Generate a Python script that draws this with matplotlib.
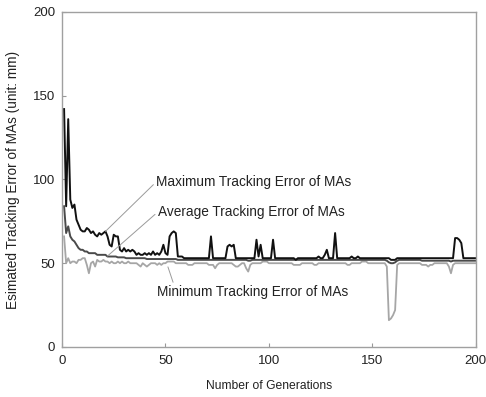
import numpy as np
import matplotlib
matplotlib.use("Agg")
import matplotlib.pyplot as plt

plt.rcParams['font.family'] = ['Liberation Sans', 'DejaVu Sans']

generations = list(range(1, 201))

max_err = [
    142, 84, 136, 88, 83, 85, 76, 73, 70, 69,
    69, 71, 70, 68, 69, 67, 66, 68, 67, 68,
    69, 66, 61, 60, 67, 66, 66, 58, 57, 59,
    57, 58, 57, 58, 57, 55, 56, 55, 55, 56,
    55, 56, 55, 57, 55, 56, 55, 57, 61, 56,
    55, 66, 68, 69, 68, 54, 54, 54, 53, 53,
    53, 53, 53, 53, 53, 53, 53, 53, 53, 53,
    53, 66, 53, 53, 53, 53, 53, 53, 53, 60,
    61, 60, 61, 53, 53, 53, 53, 53, 53, 53,
    53, 53, 53, 64, 54, 61, 53, 53, 53, 53,
    53, 64, 53, 53, 53, 53, 53, 53, 53, 53,
    53, 53, 52, 53, 53, 53, 53, 53, 53, 53,
    53, 53, 53, 54, 53, 53, 55, 58, 53, 53,
    53, 68, 53, 53, 53, 53, 53, 53, 53, 54,
    53, 53, 54, 53, 53, 53, 53, 53, 53, 53,
    53, 53, 53, 53, 53, 53, 53, 53, 52, 52,
    52, 53, 53, 53, 53, 53, 53, 53, 53, 53,
    53, 53, 53, 53, 53, 53, 53, 53, 53, 53,
    53, 53, 53, 53, 53, 53, 53, 53, 53, 65,
    65, 64, 62, 53, 53, 53, 53, 53, 53, 53,
]

avg_err = [
    84, 68, 72, 66, 64, 63, 61, 59, 58, 58,
    57, 57, 56, 56, 56, 56, 55, 55, 55, 55,
    55, 54, 54, 54, 54, 54, 53.5, 53.5, 53.5, 53.5,
    53, 53, 53, 53, 53, 53, 53, 53, 53, 53,
    52.5, 52.5, 52.5, 52.5, 52.5, 52.5, 52.5, 52.5, 52.5, 52.5,
    52.5, 52.5, 52.5, 52.5, 52.5, 52, 52, 52, 52, 52,
    52, 52, 52, 52, 52, 52, 52, 52, 52, 52,
    52, 52, 52, 52, 52, 52, 52, 52, 52, 52,
    52, 52, 52, 52, 52, 52, 52, 52, 52, 51.5,
    51.5, 52, 52, 52, 52, 52, 52, 52, 52, 52,
    52, 52, 52, 52, 52, 52, 52, 52, 52, 52,
    52, 52, 52, 52, 52, 52, 52, 52, 52, 52,
    52, 52, 52, 52, 52, 52, 52, 52, 52, 52,
    52, 52, 52, 52, 52, 52, 52, 52, 52, 52,
    52, 52, 52, 52, 52, 52, 52, 52, 52, 52,
    52, 52, 52, 52, 52, 52, 51.5, 50.5, 50, 50,
    50.5, 51.5, 52, 52, 52, 52, 52, 52, 52, 52,
    52, 52, 52, 51.5, 51.5, 51.5, 51.5, 51.5, 51.5, 51.5,
    51.5, 51.5, 51.5, 51.5, 51.5, 51.5, 51.5, 51, 51.5, 51.5,
    51.5, 51.5, 51.5, 51.5, 51.5, 51.5, 51.5, 51.5, 51.5, 51.5,
]

min_err = [
    66, 50, 53, 50, 51, 51, 50, 52, 52, 53,
    53, 49, 44, 50, 51, 48, 52, 51, 51, 52,
    51, 51, 50, 51, 50, 50, 51, 50, 51, 50,
    50, 51, 50, 50, 50, 50, 49, 48, 50, 49,
    48, 49, 50, 50, 50, 49, 50, 49, 50, 50,
    51, 51, 51, 51, 50, 50, 50, 50, 50, 50,
    49, 49, 49, 50, 50, 50, 50, 50, 50, 50,
    49, 49, 49, 47, 49, 50, 50, 50, 50, 50,
    50, 50, 49, 48, 48, 49, 50, 50, 47, 45,
    49, 50, 50, 50, 50, 50, 51, 51, 51, 50,
    50, 50, 50, 50, 50, 50, 50, 50, 50, 50,
    50, 49, 49, 49, 49, 50, 50, 50, 50, 50,
    50, 49, 49, 50, 50, 50, 50, 50, 50, 50,
    50, 50, 50, 50, 50, 50, 50, 49, 49, 50,
    50, 50, 50, 50, 51, 51, 51, 50, 50, 50,
    50, 50, 50, 50, 50, 50, 48, 16, 17, 19,
    22, 49, 50, 50, 50, 50, 50, 50, 50, 50,
    50, 50, 50, 49, 49, 49, 48, 49, 49, 50,
    50, 50, 50, 50, 50, 50, 48, 44, 49, 50,
    50, 50, 50, 50, 50, 50, 50, 50, 50, 50,
]

ticks = [0, 50, 100, 150, 200]

fig = plt.figure(figsize=(4.86, 3.97), dpi=100)
ax = fig.add_axes([0.1276, 0.126, 0.8514, 0.844])

ax.plot(generations, min_err, color='#a6a6a6', lw=1.3)
ax.plot(generations, avg_err, color='#4a4a4a', lw=1.4)
ax.plot(generations, max_err, color='#111111', lw=1.4)

ax.set_xlim(0, 200)
ax.set_ylim(0, 200)
ax.set_xticks(ticks)
ax.set_yticks(ticks)
ax.tick_params(direction='in', length=3, color='#999999', labelsize=9.5,
               labelcolor='#222222')
ax.tick_params(axis='x', pad=6)
ax.tick_params(axis='y', pad=5)
for s in ax.spines.values():
    s.set_color('#a0a0a0')
    s.set_linewidth(1.0)

ax.set_xlabel('Number of Generations', fontsize=8.7, color='#222222', labelpad=9)
fig.text(0.027, 0.548, 'Esimated Tracking Error of MAs (unit: mm)', rotation=90,
         ha='center', va='center', fontsize=9.8, color='#222222')

lead = dict(arrowstyle='-', color='#9a9a9a', lw=0.7, shrinkA=0, shrinkB=0)
ax.annotate('Maximum Tracking Error of MAs', xy=(21, 69), xytext=(45.5, 98.5),
            fontsize=9.8, color='#222222', va='center', ha='left',
            arrowprops=dict(lead, relpos=(0, 0.5)))
ax.annotate('Average Tracking Error of MAs', xy=(22, 54.3), xytext=(46.3, 80.6),
            fontsize=9.8, color='#222222', va='center', ha='left',
            arrowprops=dict(lead, relpos=(0, 0.5)))
ax.annotate('Minimum Tracking Error of MAs', xy=(51.2, 47.8), xytext=(45.8, 32.8),
            fontsize=9.8, color='#222222', va='center', ha='left',
            arrowprops=dict(lead, relpos=(0.09, 1.0), shrinkB=0))

fig.savefig('out.png', dpi=100)
